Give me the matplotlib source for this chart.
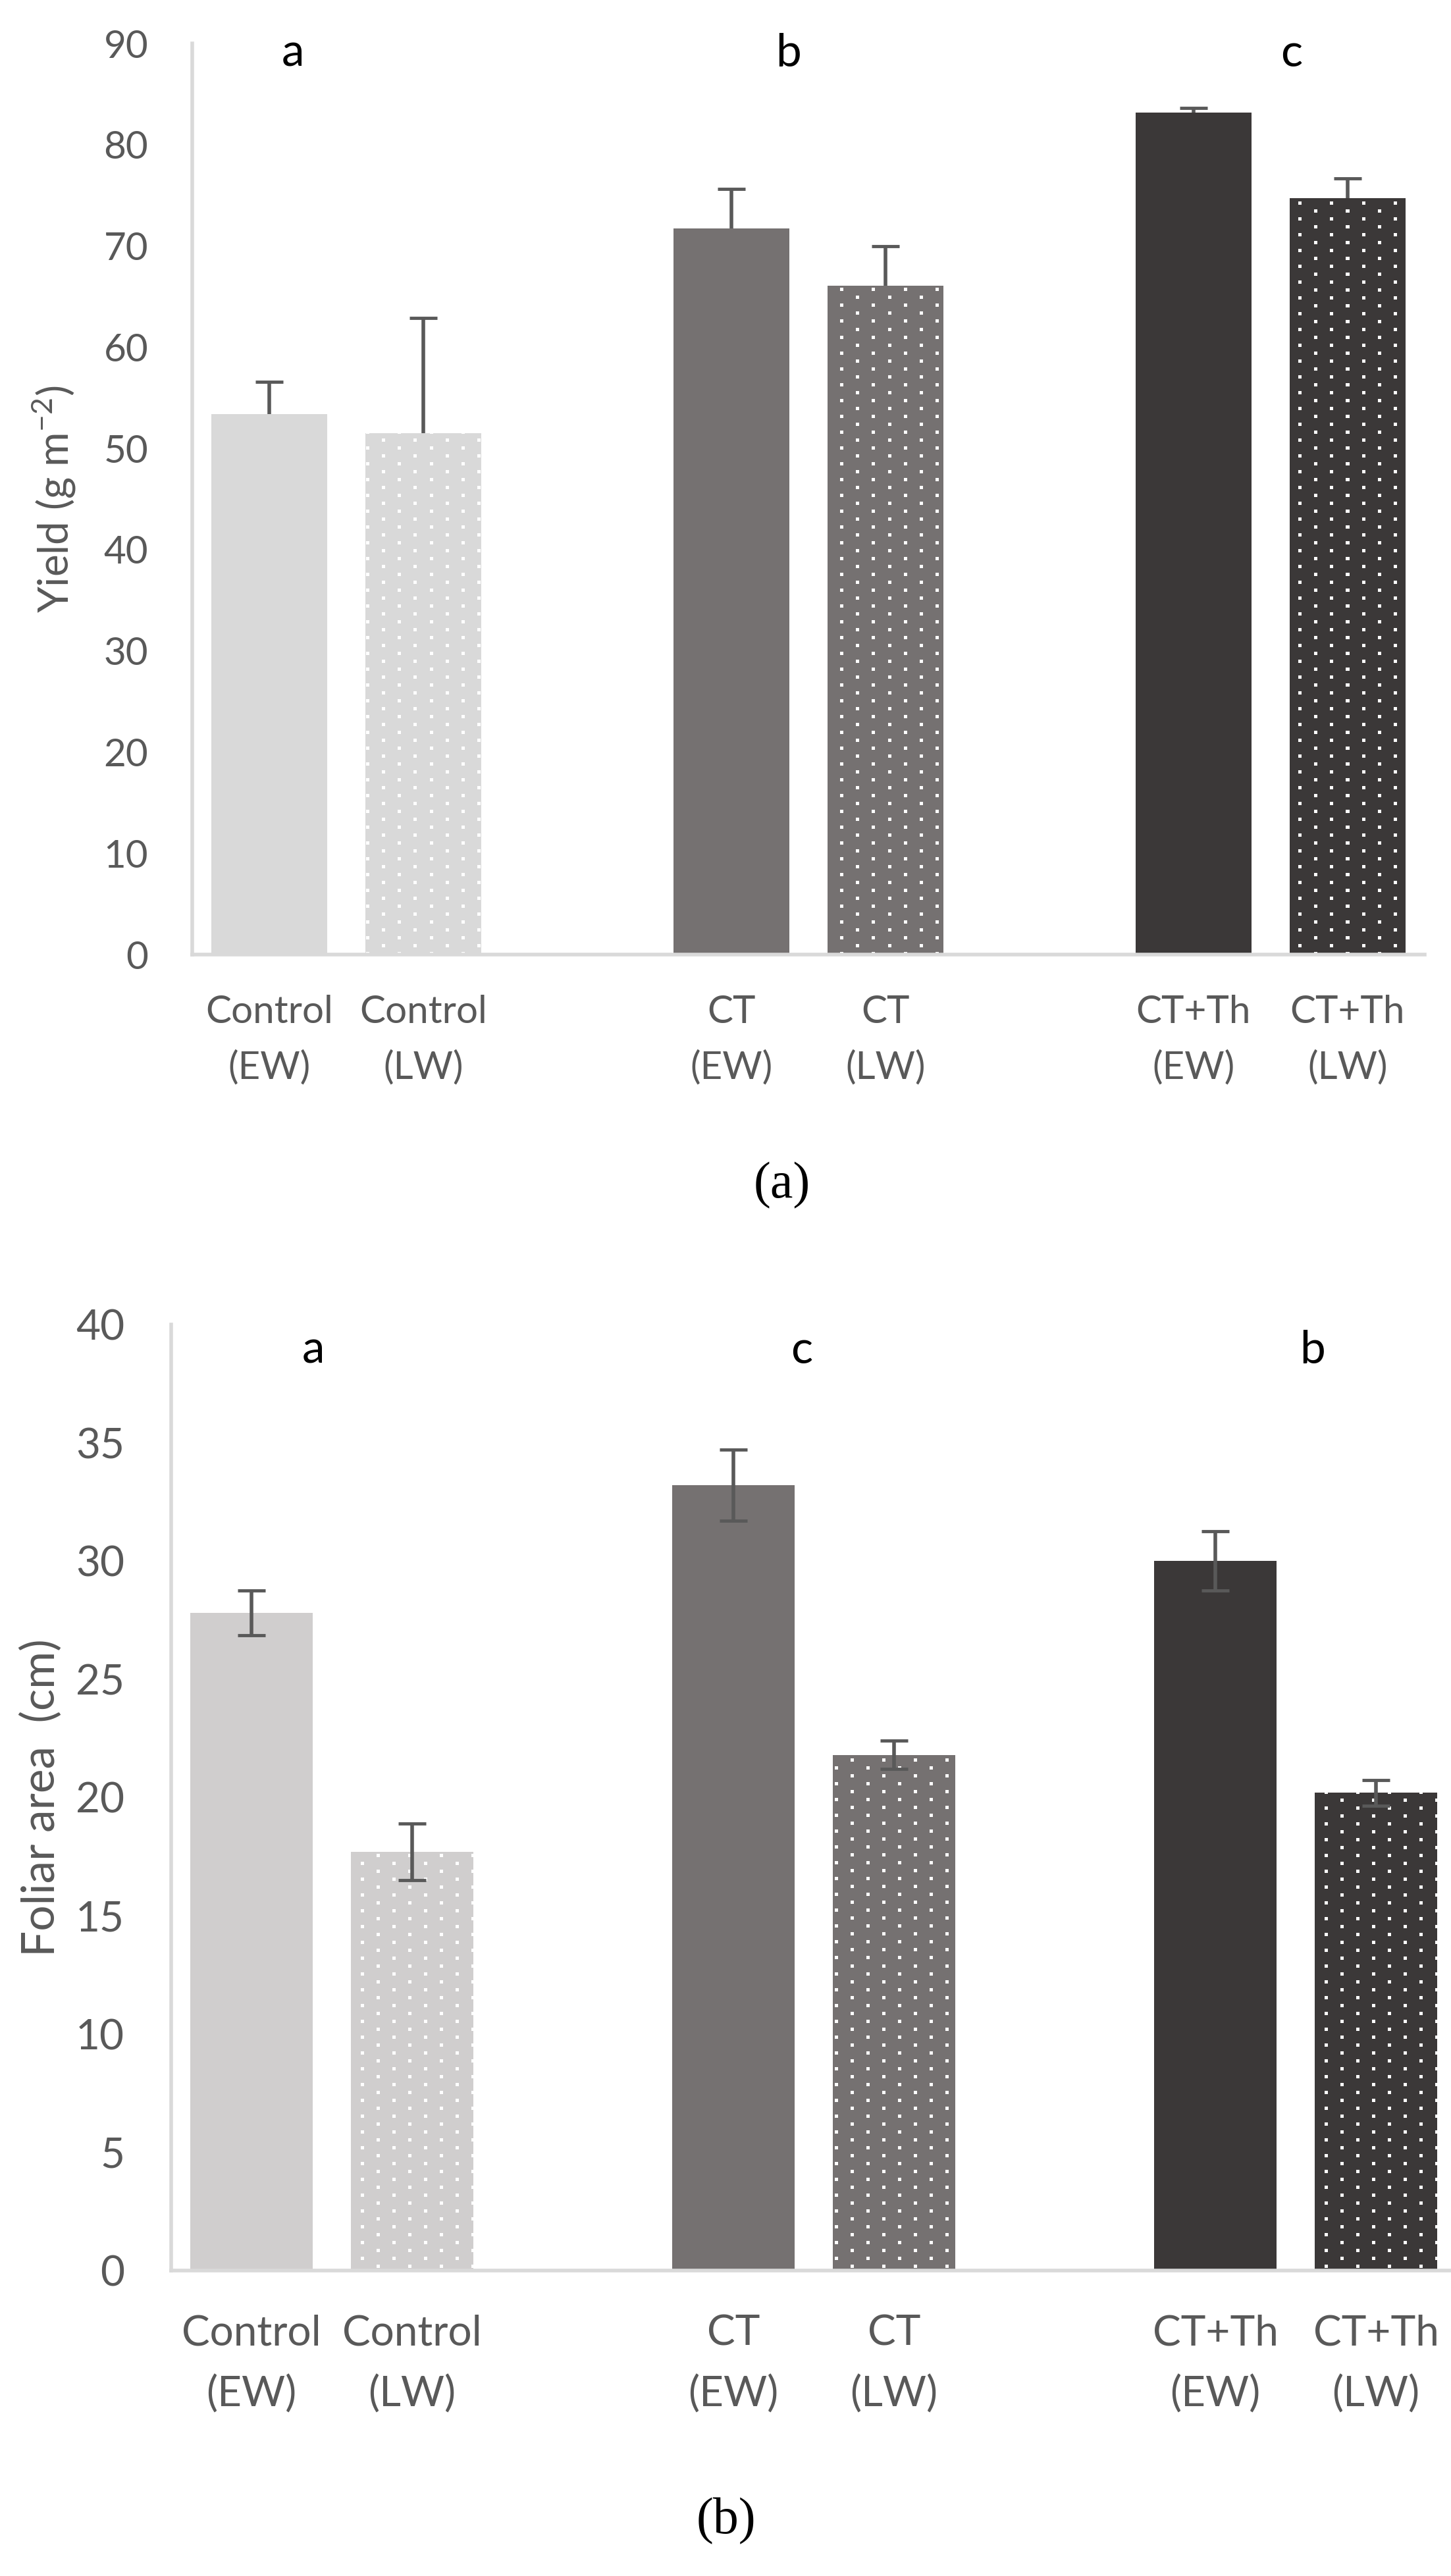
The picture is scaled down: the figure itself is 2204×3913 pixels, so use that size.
import numpy as np
import matplotlib
matplotlib.use("Agg")
import matplotlib.pyplot as plt

plt.rcParams['font.family'] = ['Lato', 'DejaVu Sans']
plt.rcParams['mathtext.default'] = 'regular'

# data
labels = ["Control\n(EW)", "Control\n(LW)", "CT\n(EW)", "CT\n(LW)", "CT+Th\n(EW)", "CT+Th\n(LW)"]
dotted = [False, True, False, True, False, True]

yield_vals = [53.4, 51.5, 71.7, 66.1, 83.2, 74.7]
yield_err = [3.2, 11.4, 3.9, 3.9, 0.4, 2.0]
yield_letters = ["a", "b", "c"]

foliar_vals = [27.8, 17.7, 33.2, 21.8, 30.0, 20.2]
foliar_err = [0.95, 1.2, 1.5, 0.6, 1.25, 0.55]
foliar_letters = ["a", "c", "b"]

colors_a = ["#D9D9D9", "#D9D9D9", "#757171", "#757171", "#3B3838", "#3B3838"]
colors_b = ["#D0CECE", "#D0CECE", "#757171", "#757171", "#3B3838", "#3B3838"]

W, H = 2204, 3913
fig = plt.figure(figsize=(W / 100, H / 100), dpi=100)

# pairs with one empty slot between groups
pos = [i + i // 2 for i in range(len(labels))]
tick_pos = list(range(8))
tick_lab = [""] * 8
for p, l in zip(pos, labels):
    tick_lab[p] = l


def dot_texture(h, w, period=48, row=12, size=5):
    img = np.zeros((h, w, 4))
    for k, r in enumerate(range(0, h, row)):
        off = (k % 2) * period // 2
        for c in range(off, w, period):
            img[r:r + size, c:c + size] = 1.0
    return img


def panel(rect, vals, err, colors, ymax, ystep, ylabel, letters, letter_x, letter_y,
          fs_tick, fs_x, xpad, ypad, ylab_fs, ylab_x, width, upper_only):
    ax = fig.add_axes(rect)
    bars = ax.bar(pos, vals, width=width, color=colors, linewidth=0, zorder=2)
    ax.set_xlim(-0.5, 7.5)
    ax.set_ylim(0, ymax)

    # white dot pattern on the LW bars
    bb = ax.get_window_extent()
    tex = dot_texture(int(bb.height), int(bb.width))
    for b, d in zip(bars, dotted):
        if d:
            im = ax.imshow(tex, extent=(-0.5, 7.5, 0, ymax), aspect='auto',
                           interpolation='nearest', zorder=2.1)
            im.set_clip_path(b)
    ax.set_xlim(-0.5, 7.5)
    ax.set_ylim(0, ymax)

    if upper_only:
        eb = ax.errorbar(pos, vals, yerr=[np.zeros(len(err)), err], fmt='none',
                         ecolor='#595959', elinewidth=4, capsize=14.8, capthick=3.5, zorder=3)
        eb[1][0].set_visible(False)
    else:
        ax.errorbar(pos, vals, yerr=err, fmt='none', ecolor='#595959',
                    elinewidth=4, capsize=14.8, capthick=3.5, zorder=3)

    for s in ['top', 'right']:
        ax.spines[s].set_visible(False)
    for s in ['left', 'bottom']:
        ax.spines[s].set_color('#D9D9D9')
        ax.spines[s].set_linewidth(4)
    ax.set_yticks(np.arange(0, ymax + 0.1, ystep))
    ax.set_xticks(tick_pos)
    ax.set_xticklabels(tick_lab, fontsize=fs_x, color='#595959', linespacing=1.7)
    ax.tick_params(axis='x', length=0, pad=xpad)
    ax.tick_params(axis='y', length=0, pad=ypad, labelsize=fs_tick, labelcolor='#595959')
    ax.set_ylabel(ylabel, fontsize=ylab_fs, color='#595959')
    ax.yaxis.set_label_coords(ylab_x, 0.5)
    for t, lx in zip(letters, letter_x):
        ax.text(lx, letter_y, t, transform=ax.transAxes, ha='center', va='baseline',
                fontsize=50, color='black')
    return ax


ax1 = panel([292 / W, 1 - 1450 / H, 1872 / W, 1384 / H], yield_vals, yield_err, colors_a,
            90, 10, "Yield (g m$^{-2}$)", yield_letters, [0.0817, 0.484, 0.892], 0.975,
            42, 42, 44, 48, 46, -0.0935, 0.755, True)

ax2 = panel([260 / W, 1 - 3449 / H, 1952 / W, 1437 / H], foliar_vals, foliar_err, colors_b,
            40, 5, "Foliar area  (cm)", foliar_letters, [0.1107, 0.4908, 0.888], 0.959,
            46, 46, 48, 51, 50, -0.0845, 0.76, False)

fig.text(1188 / W, 1 - 1801 / H, "(a)", ha='center', va='center', fontsize=56,
         family='Liberation Serif')
fig.text(1103 / W, 1 - 3830 / H, "(b)", ha='center', va='center', fontsize=56,
         family='Liberation Serif')

fig.savefig("out.png", dpi=100)
